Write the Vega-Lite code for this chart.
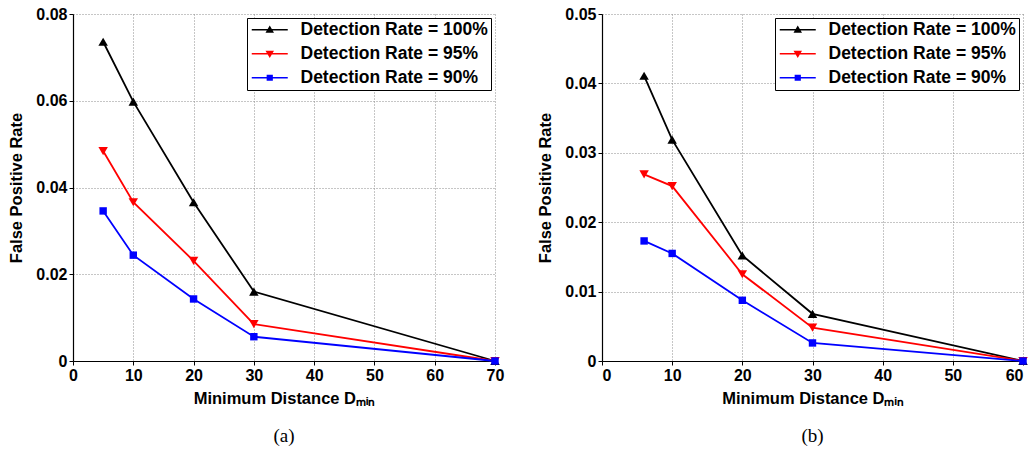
{
  "$schema": "https://vega.github.io/schema/vega-lite/v6.json",
  "padding": {"left": 8, "top": 6, "right": 0, "bottom": 0},
  "background": "white",
  "spacing": 32,
  "datasets": {
    "a": [
      {"series": "Detection Rate = 100%", "dmin": 5, "fpr": 0.0736},
      {"series": "Detection Rate = 100%", "dmin": 10, "fpr": 0.0598},
      {"series": "Detection Rate = 100%", "dmin": 20, "fpr": 0.0366},
      {"series": "Detection Rate = 100%", "dmin": 30, "fpr": 0.0160},
      {"series": "Detection Rate = 100%", "dmin": 70, "fpr": 0},
      {"series": "Detection Rate = 95%", "dmin": 5, "fpr": 0.0484},
      {"series": "Detection Rate = 95%", "dmin": 10, "fpr": 0.0366},
      {"series": "Detection Rate = 95%", "dmin": 20, "fpr": 0.0231},
      {"series": "Detection Rate = 95%", "dmin": 30, "fpr": 0.0085},
      {"series": "Detection Rate = 95%", "dmin": 70, "fpr": 0},
      {"series": "Detection Rate = 90%", "dmin": 5, "fpr": 0.0346},
      {"series": "Detection Rate = 90%", "dmin": 10, "fpr": 0.0244},
      {"series": "Detection Rate = 90%", "dmin": 20, "fpr": 0.0143},
      {"series": "Detection Rate = 90%", "dmin": 30, "fpr": 0.0056},
      {"series": "Detection Rate = 90%", "dmin": 70, "fpr": 0}
    ],
    "b": [
      {"series": "Detection Rate = 100%", "dmin": 6, "fpr": 0.0411},
      {"series": "Detection Rate = 100%", "dmin": 10, "fpr": 0.0319},
      {"series": "Detection Rate = 100%", "dmin": 20, "fpr": 0.0152},
      {"series": "Detection Rate = 100%", "dmin": 30, "fpr": 0.0068},
      {"series": "Detection Rate = 100%", "dmin": 60, "fpr": 0},
      {"series": "Detection Rate = 95%", "dmin": 6, "fpr": 0.0269},
      {"series": "Detection Rate = 95%", "dmin": 10, "fpr": 0.0252},
      {"series": "Detection Rate = 95%", "dmin": 20, "fpr": 0.0125},
      {"series": "Detection Rate = 95%", "dmin": 30, "fpr": 0.0048},
      {"series": "Detection Rate = 95%", "dmin": 60, "fpr": 0},
      {"series": "Detection Rate = 90%", "dmin": 6, "fpr": 0.0173},
      {"series": "Detection Rate = 90%", "dmin": 10, "fpr": 0.0155},
      {"series": "Detection Rate = 90%", "dmin": 20, "fpr": 0.00875},
      {"series": "Detection Rate = 90%", "dmin": 30, "fpr": 0.0026},
      {"series": "Detection Rate = 90%", "dmin": 60, "fpr": 0}
    ]
  },
  "hconcat": [
    {
      "data": {"name": "a"},
      "width": 422,
      "height": 347,
      "title": {"text": "(a)", "orient": "bottom", "anchor": "middle", "frame": "group", "font": "Liberation Serif", "fontSize": 19, "fontWeight": "normal", "color": "black", "offset": 20},
      "encoding": {
        "x": {"field": "dmin", "type": "quantitative", "scale": {"domain": [0, 70], "nice": false, "zero": false},
              "axis": {"title": "Minimum Distance Dₘᵢₙ", "values": [0, 10, 20, 30, 40, 50, 60, 70], "format": "d"}},
        "y": {"field": "fpr", "type": "quantitative", "scale": {"domain": [0, 0.08], "nice": false},
              "axis": {"title": "False Positive Rate", "values": [0, 0.02, 0.04, 0.06, 0.08], "labelExpr": "datum.value === 0 ? '0' : format(datum.value, '.2f')"}},
        "order": {"field": "dmin", "type": "quantitative"}
      },
      "layer": [
        {"transform": [{"filter": "datum.series === 'Detection Rate = 100%'"}],
         "mark": {"type": "line", "strokeWidth": 1.8, "color": "#000000", "point": {"filled": true, "shape": "triangle-up", "size": 90, "color": "#000000"}}},
        {"transform": [{"filter": "datum.series === 'Detection Rate = 95%'"}],
         "mark": {"type": "line", "strokeWidth": 1.8, "color": "#ff0000", "point": {"filled": true, "shape": "triangle-down", "size": 90, "color": "#ff0000"}}},
        {"transform": [{"filter": "datum.series === 'Detection Rate = 90%'"}],
         "mark": {"type": "line", "strokeWidth": 1.8, "color": "#0000ff", "point": {"filled": true, "shape": "square", "size": 55, "color": "#0000ff"}}},
        {"mark": {"type": "point", "filled": true, "opacity": 0},
         "encoding": {
           "color": {"field": "series", "type": "nominal",
                     "scale": {"domain": ["Detection Rate = 100%", "Detection Rate = 95%", "Detection Rate = 90%"], "range": ["#000000", "#ff0000", "#0000ff"]},
                     "legend": {"title": null, "orient": "top-right", "offset": 4, "symbolSize": 100, "symbolOffset": 11, "labelOffset": 22, "symbolOpacity": 1, "symbolStrokeWidth": 0}},
           "shape": {"field": "series", "type": "nominal",
                     "scale": {"domain": ["Detection Rate = 100%", "Detection Rate = 95%", "Detection Rate = 90%"],
                               "range": ["M-3.6,-0.17L3.6,-0.17L3.6,0.17L-3.6,0.17ZM0,-0.85L0.85,0.6L-0.85,0.6Z", "M-3.6,-0.17L3.6,-0.17L3.6,0.17L-3.6,0.17ZM0,0.85L-0.85,-0.6L0.85,-0.6Z", "M-3.6,-0.17L3.6,-0.17L3.6,0.17L-3.6,0.17ZM-0.62,-0.62L0.62,-0.62L0.62,0.62L-0.62,0.62Z"]},
                     "legend": {"title": null, "orient": "top-right", "offset": 4, "symbolSize": 100, "symbolOffset": 11, "labelOffset": 22, "symbolOpacity": 1, "symbolStrokeWidth": 0}}
         }}
      ]
    },
    {
      "data": {"name": "b"},
      "width": 421,
      "height": 347,
      "title": {"text": "(b)", "orient": "bottom", "anchor": "middle", "frame": "group", "font": "Liberation Serif", "fontSize": 19, "fontWeight": "normal", "color": "black", "offset": 20},
      "encoding": {
        "x": {"field": "dmin", "type": "quantitative", "scale": {"domain": [0, 60], "nice": false, "zero": false},
              "axis": {"title": "Minimum Distance Dₘᵢₙ", "values": [0, 10, 20, 30, 40, 50, 60], "format": "d", "labelFlush": true}},
        "y": {"field": "fpr", "type": "quantitative", "scale": {"domain": [0, 0.05], "nice": false},
              "axis": {"title": "False Positive Rate", "values": [0, 0.01, 0.02, 0.03, 0.04, 0.05], "labelExpr": "datum.value === 0 ? '0' : format(datum.value, '.2f')"}},
        "order": {"field": "dmin", "type": "quantitative"}
      },
      "layer": [
        {"transform": [{"filter": "datum.series === 'Detection Rate = 100%'"}],
         "mark": {"type": "line", "strokeWidth": 1.8, "color": "#000000", "point": {"filled": true, "shape": "triangle-up", "size": 90, "color": "#000000"}}},
        {"transform": [{"filter": "datum.series === 'Detection Rate = 95%'"}],
         "mark": {"type": "line", "strokeWidth": 1.8, "color": "#ff0000", "point": {"filled": true, "shape": "triangle-down", "size": 90, "color": "#ff0000"}}},
        {"transform": [{"filter": "datum.series === 'Detection Rate = 90%'"}],
         "mark": {"type": "line", "strokeWidth": 1.8, "color": "#0000ff", "point": {"filled": true, "shape": "square", "size": 55, "color": "#0000ff"}}},
        {"mark": {"type": "point", "filled": true, "opacity": 0},
         "encoding": {
           "color": {"field": "series", "type": "nominal",
                     "scale": {"domain": ["Detection Rate = 100%", "Detection Rate = 95%", "Detection Rate = 90%"], "range": ["#000000", "#ff0000", "#0000ff"]},
                     "legend": {"title": null, "orient": "top-right", "offset": 4, "symbolSize": 100, "symbolOffset": 11, "labelOffset": 22, "symbolOpacity": 1, "symbolStrokeWidth": 0}},
           "shape": {"field": "series", "type": "nominal",
                     "scale": {"domain": ["Detection Rate = 100%", "Detection Rate = 95%", "Detection Rate = 90%"],
                               "range": ["M-3.6,-0.17L3.6,-0.17L3.6,0.17L-3.6,0.17ZM0,-0.85L0.85,0.6L-0.85,0.6Z", "M-3.6,-0.17L3.6,-0.17L3.6,0.17L-3.6,0.17ZM0,0.85L-0.85,-0.6L0.85,-0.6Z", "M-3.6,-0.17L3.6,-0.17L3.6,0.17L-3.6,0.17ZM-0.62,-0.62L0.62,-0.62L0.62,0.62L-0.62,0.62Z"]},
                     "legend": {"title": null, "orient": "top-right", "offset": 4, "symbolSize": 100, "symbolOffset": 11, "labelOffset": 22, "symbolOpacity": 1, "symbolStrokeWidth": 0}}
         }}
      ]
    }
  ],
  "resolve": {"scale": {"color": "independent", "shape": "independent"}},
  "config": {
    "view": {"stroke": null},
    "font": "Liberation Sans",
    "axis": {
      "labelFont": "Liberation Sans", "labelFontWeight": "bold", "labelFontSize": 16, "labelColor": "#000000",
      "titleFont": "Liberation Sans", "titleFontWeight": "bold", "titleFontSize": 16.5, "titleColor": "#000000",
      "domainColor": "#000000", "domainWidth": 1.2, "tickColor": "#000000", "tickSize": 4, "labelPadding": 2,
      "labelFlush": false, "labelOverlap": false,
      "grid": true, "gridColor": "#8c8c8c", "gridDash": [1, 2], "gridWidth": 1, "gridOpacity": 1
    },
    "axisX": {"titlePadding": 7},
    "axisY": {"titlePadding": 11},
    "legend": {
      "labelFont": "Liberation Sans", "labelFontWeight": "bold", "labelFontSize": 17.5, "labelColor": "#000000",
      "strokeColor": "#000000", "fillColor": "#ffffff", "padding": 3, "rowPadding": 5, "cornerRadius": 0, "labelLimit": 400
    }
  }
}
